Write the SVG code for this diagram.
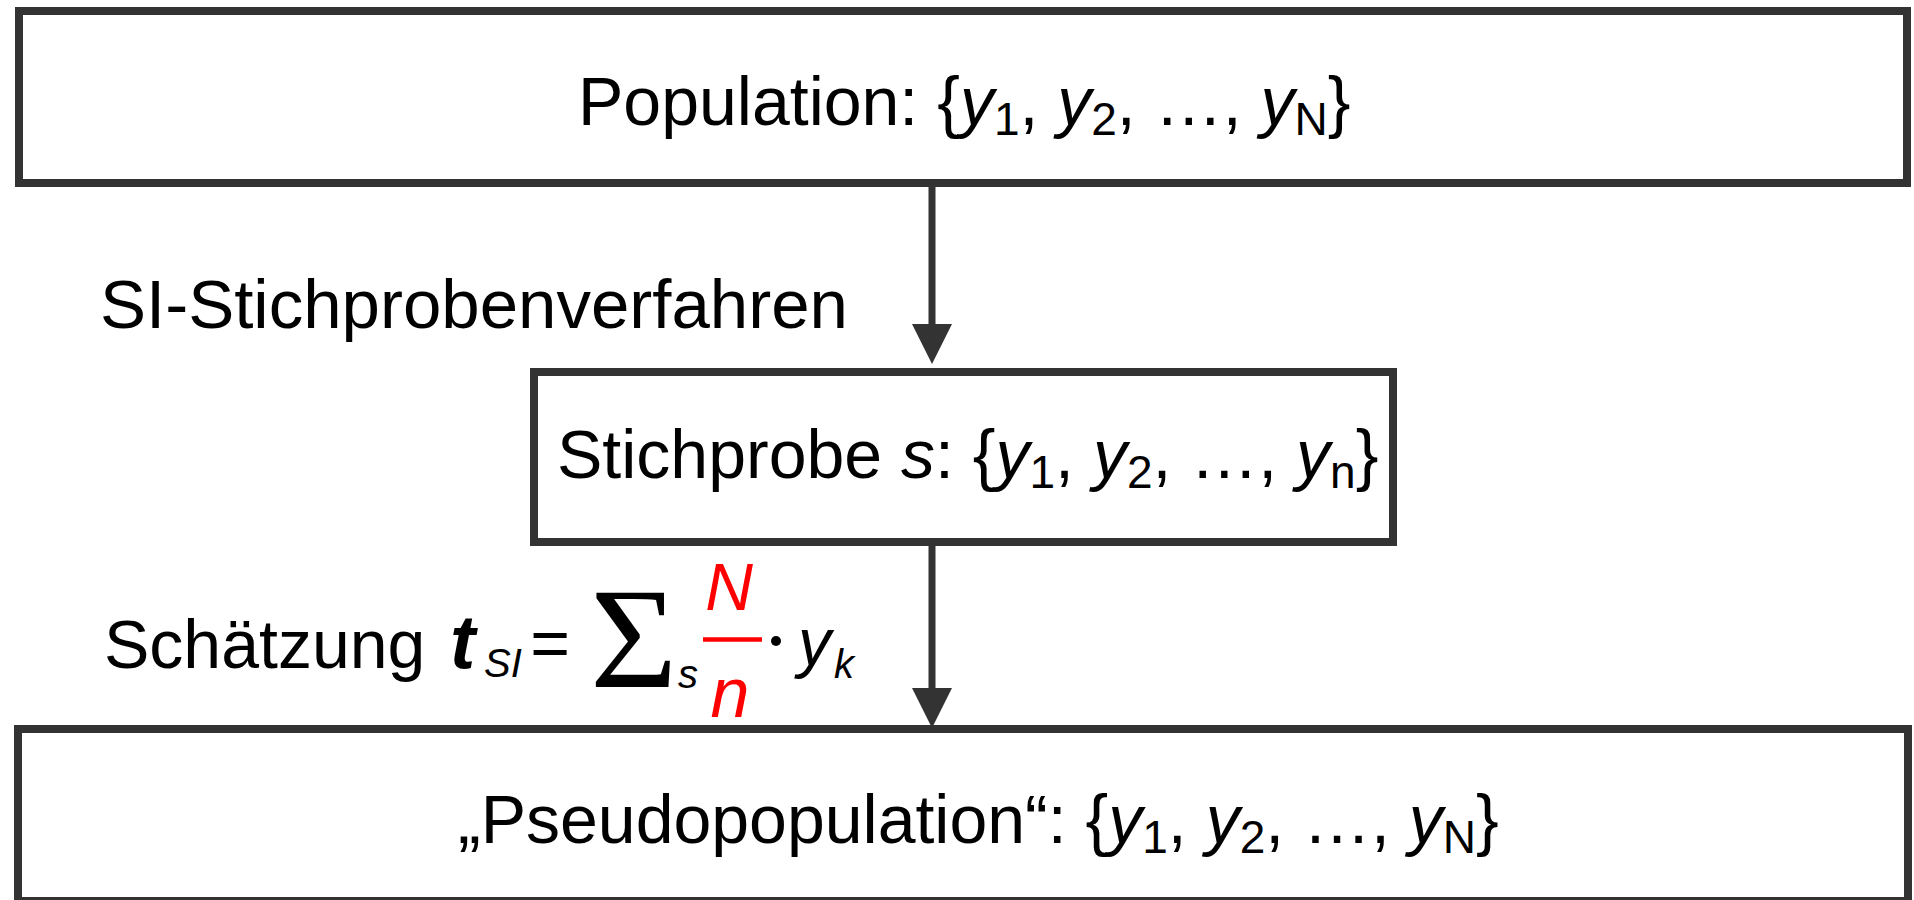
<svg xmlns="http://www.w3.org/2000/svg" width="1914" height="900" viewBox="0 0 1914 900">
<style>
.box{fill:#fff;stroke:#333;stroke-width:8}
.t{font-family:"Liberation Sans",Arial,sans-serif;font-size:68px;fill:#000}
.i{font-style:italic}
.sub{font-size:46px}
.s40{font-size:40px}
.s66{font-size:66px}
.s70{font-size:70px}
.s76{font-size:76px}
.conn{stroke:#333;stroke-width:7;fill:none}
.red{fill:#ff0000}
</style>
<defs>
<marker id="ah" markerUnits="userSpaceOnUse" markerWidth="40" markerHeight="40" viewBox="0 0 38 38" refX="1" refY="19" orient="auto">
<path d="M0,0 L38,19 L0,38 Z" fill="#333"/>
</marker>
</defs>
<rect width="1914" height="900" fill="#fff"/>
<g id="connectors">
<line class="conn" x1="932" y1="187" x2="932" y2="325" marker-end="url(#ah)"/>
<line class="conn" x1="932" y1="546" x2="932" y2="689" marker-end="url(#ah)"/>
</g>
<g id="population">
<rect class="box" x="19" y="11" width="1888" height="172"/>
<text class="t" x="578" y="125">Population: {<tspan class="i">y</tspan><tspan class="sub" dy="10">1</tspan><tspan dy="-10">, </tspan><tspan class="i">y</tspan><tspan class="sub" dy="10">2</tspan><tspan dy="-10">, …, </tspan><tspan class="i">y</tspan><tspan class="sub" dy="10">N</tspan><tspan dy="-10">}</tspan></text>
</g>
<g id="label-si">
<text class="t" x="100" y="328" style="font-size:69px">SI-Stichprobenverfahren</text>
</g>
<g id="stichprobe">
<rect class="box" x="534" y="372" width="859" height="170"/>
<text class="t" x="557" y="478">Stichprobe <tspan class="i">s</tspan>: {<tspan class="i">y</tspan><tspan class="sub" dy="10">1</tspan><tspan dy="-10">, </tspan><tspan class="i">y</tspan><tspan class="sub" dy="10">2</tspan><tspan dy="-10">, …, </tspan><tspan class="i">y</tspan><tspan class="sub" dy="10">n</tspan><tspan dy="-10">}</tspan></text>
</g>
<g id="label-schaetzung">
<text class="t" x="104" y="668">Schätzung</text>
<text class="t i s76" x="450" y="668" font-weight="bold">t</text>
<text class="t i s40" x="484" y="677">SI</text>
<text class="t" x="550" y="667" text-anchor="middle">=</text>
<text x="0" y="0" transform="translate(590,687) scale(1.05,1)" font-family="Liberation Serif,serif" font-size="143">Σ</text>
<text class="t i s40" x="678" y="688">s</text>
<text class="t i red s66" x="729" y="610" text-anchor="middle">N</text>
<line x1="703" y1="639.5" x2="762" y2="639.5" stroke="#ff0000" stroke-width="4.5"/>
<text class="t i red s70" x="730" y="717" text-anchor="middle">n</text>
<circle cx="776" cy="641" r="5" fill="#000"/>
<text class="t i s66" x="798" y="665">y</text>
<text class="t i s40" x="834" y="678">k</text>
</g>
<g id="pseudopopulation">
<rect class="box" x="18" y="729" width="1890" height="172"/>
<text class="t" x="458" y="843">„Pseudopopulation“: {<tspan class="i">y</tspan><tspan class="sub" dy="10">1</tspan><tspan dy="-10">, </tspan><tspan class="i">y</tspan><tspan class="sub" dy="10">2</tspan><tspan dy="-10">, …, </tspan><tspan class="i">y</tspan><tspan class="sub" dy="10">N</tspan><tspan dy="-10">}</tspan></text>
</g>
</svg>
